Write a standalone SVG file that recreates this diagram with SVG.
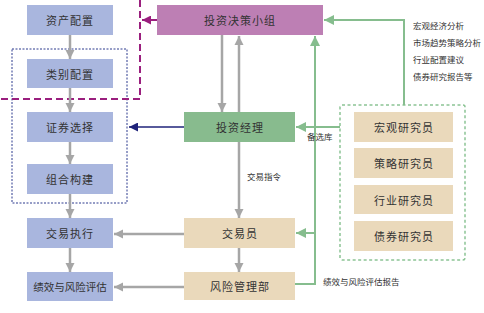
<svg xmlns="http://www.w3.org/2000/svg" width="484" height="313" viewBox="0 0 484 313">
<defs>
<style>
.t{font-family:"Noto Sans CJK SC","Noto Sans",sans-serif;fill:#333;text-anchor:middle;dominant-baseline:central}
.b{font-size:11px;letter-spacing:1px}
.s{font-family:"Noto Sans CJK SC","Noto Sans",sans-serif;fill:#333;font-size:8.5px}
.blue{fill:#a9b6de}
.tan{fill:#ead9bb}
.g{stroke:#a6a6a6;stroke-width:2.5;fill:none}
.gr{stroke:#86bd8e;stroke-width:2;fill:none}
</style>
<marker id="ag" markerUnits="userSpaceOnUse" viewBox="0 0 10 10" refX="10" refY="5" markerWidth="9" markerHeight="10" orient="auto"><path d="M0,0 L10,5 L0,10 z" fill="#a6a6a6"/></marker>
<marker id="agr" markerUnits="userSpaceOnUse" viewBox="0 0 10 10" refX="10" refY="5" markerWidth="10" markerHeight="10" orient="auto"><path d="M0,0 L10,5 L0,10 z" fill="#86bd8e"/></marker>
<marker id="ap" markerUnits="userSpaceOnUse" viewBox="0 0 10 10" refX="10" refY="5" markerWidth="10" markerHeight="9" orient="auto"><path d="M0,0 L10,5 L0,10 z" fill="#9a1f7e"/></marker>
<marker id="an" markerUnits="userSpaceOnUse" viewBox="0 0 10 10" refX="10" refY="5" markerWidth="10" markerHeight="9" orient="auto"><path d="M0,0 L10,5 L0,10 z" fill="#1f237a"/></marker>
</defs>
<rect width="484" height="313" fill="#fff"/>
<!-- frames -->
<rect x="12" y="49" width="115" height="154" fill="none" stroke="#2d3a8e" stroke-width="1" stroke-dasharray="2,1.5"/>
<path d="M140,0 V99 H0" fill="none" stroke="#9a1f7e" stroke-width="2" stroke-dasharray="7,4"/>
<rect x="340" y="105" width="125" height="155" fill="none" stroke="#8cc495" stroke-width="1.5" stroke-dasharray="3,2.5" rx="2"/>
<g id="connectors">
<path class="g" d="M70,35 V59" marker-end="url(#ag)"/>
<path class="g" d="M70,88 V112" marker-end="url(#ag)"/>
<path class="g" d="M70,142 V164" marker-end="url(#ag)"/>
<path class="g" d="M70,194 V218" marker-end="url(#ag)"/>
<path class="g" d="M70,248 V272" marker-end="url(#ag)"/>
<path class="g" d="M222,35 V112" marker-end="url(#ag)"/>
<path class="g" d="M239,112 V36" marker-end="url(#ag)"/>
<path class="g" d="M239,142 V218" marker-end="url(#ag)"/>
<path class="g" d="M239,248 V272" marker-end="url(#ag)"/>
<path class="g" d="M184,234 H114" marker-end="url(#ag)"/>
<path class="g" d="M184,287 H114" marker-end="url(#ag)"/>
<path d="M157,20 H142" stroke="#9a1f7e" stroke-width="2" fill="none" marker-end="url(#ap)"/>
<path d="M184,127 H129" stroke="#1f237a" stroke-width="1.5" fill="none" marker-end="url(#an)"/>
<path class="gr" d="M295,284 H315 V36" marker-end="url(#agr)"/>
<path class="gr" d="M315,233 H296" marker-end="url(#agr)"/>
<path class="gr" d="M340,127 H296" marker-end="url(#agr)"/>
<path class="gr" d="M404,105 V20 H324" marker-end="url(#agr)"/>
<text class="s" x="247" y="180">交易指令</text>
<text class="s" x="307" y="140">备选库</text>
<text class="s" x="323" y="285">绩效与风险评估报告</text>
</g>
<g id="n1"><rect class="blue" x="27" y="5" width="86" height="30"/><text class="t b" x="70" y="20">资产配置</text></g>
<g id="n2"><rect class="blue" x="27" y="59" width="86" height="29"/><text class="t b" x="70" y="73.5">类别配置</text></g>
<g id="n3"><rect class="blue" x="27" y="112" width="86" height="30"/><text class="t b" x="70" y="127">证券选择</text></g>
<g id="n4"><rect class="blue" x="27" y="164" width="86" height="30"/><text class="t b" x="70" y="179">组合构建</text></g>
<g id="n5"><rect class="blue" x="27" y="218" width="86" height="30"/><text class="t b" x="70" y="233">交易执行</text></g>
<g id="n6"><rect class="blue" x="27" y="272" width="86" height="29"/><text class="t" x="70" y="286.5" font-size="10.5">绩效与风险评估</text></g>
<g id="n7"><rect fill="#bd7fb4" x="157" y="5" width="166" height="30"/><text class="t b" x="240" y="20">投资决策小组</text></g>
<g id="n8"><rect fill="#88bb8e" x="184" y="112" width="111" height="30"/><text class="t b" x="240" y="127">投资经理</text></g>
<g id="n9"><rect class="tan" x="184" y="218" width="111" height="30"/><text class="t b" x="240" y="233">交易员</text></g>
<g id="n10"><rect class="tan" x="184" y="272" width="111" height="28"/><text class="t b" x="240" y="286">风险管理部</text></g>
<g id="n11"><rect class="tan" x="354" y="112" width="99" height="30"/><text class="t b" x="404" y="127">宏观研究员</text></g>
<g id="n12"><rect class="tan" x="354" y="148" width="99" height="30"/><text class="t b" x="404" y="163">策略研究员</text></g>
<g id="n13"><rect class="tan" x="354" y="185" width="99" height="29"/><text class="t b" x="404" y="199.5">行业研究员</text></g>
<g id="n14"><rect class="tan" x="354" y="221" width="99" height="30"/><text class="t b" x="404" y="236">债券研究员</text></g>
<g id="notes">
<text class="s" x="413" y="29">宏观经济分析</text>
<text class="s" x="413" y="46">市场趋势策略分析</text>
<text class="s" x="413" y="63">行业配置建议</text>
<text class="s" x="413" y="80">债券研究报告等</text>
</g>
</svg>
